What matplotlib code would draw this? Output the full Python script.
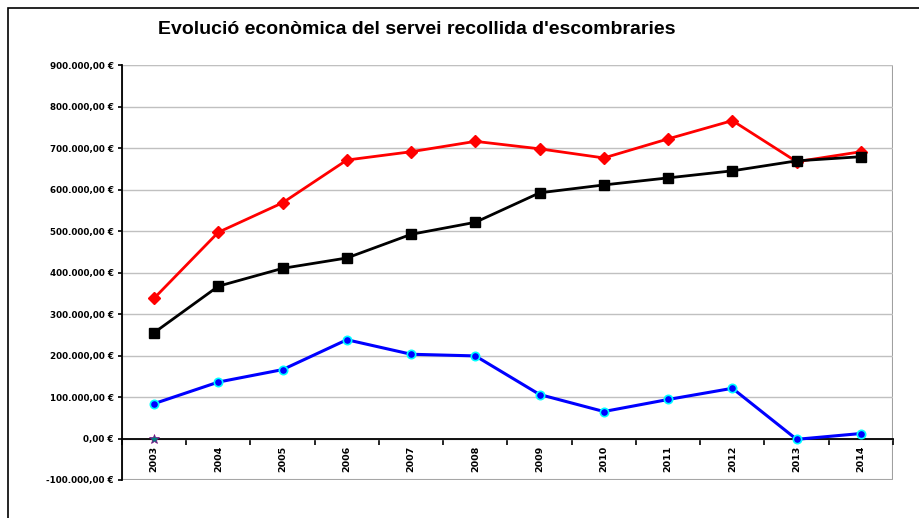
import matplotlib.pyplot as plt
import numpy as np
from matplotlib.patches import Rectangle

years = ['2003', '2004', '2005', '2006', '2007', '2008', '2009', '2010', '2011', '2012', '2013', '2014']
costos = [338000, 497000, 568000, 671000, 691000, 716000, 698000, 676000, 722000, 766000, 667000, 691000]
ingressos = [255000, 367000, 410000, 435000, 492000, 521000, 592000, 611000, 628000, 645000, 669000, 679000]
diferencia = [84000, 136000, 166000, 238000, 203000, 199000, 106000, 65000, 94000, 121000, -2000, 12000]
extra = [0]

yticks = list(range(-100000, 900001, 100000))


def euro(v):
    s = f"{abs(v):,.2f}".replace(',', 'X').replace('.', ',').replace('X', '.')
    return ('-' if v < 0 else '') + s + ' €'


fig = plt.figure(figsize=(9.2, 5.18), dpi=100)
fig.patches.append(Rectangle((8 / 920, -0.1), 1.2, 1 - 8 / 518 + 0.1, transform=fig.transFigure,
                             fill=False, edgecolor='black', linewidth=1.2))
ax = fig.add_axes([122 / 920, 1 - 480 / 518, 771 / 920, 415 / 518])

x = np.arange(len(years))
ax.plot(x, costos, color='red', linewidth=2, marker='D', markersize=6.5, zorder=3)
ax.plot(x, ingressos, color='black', linewidth=2, marker='s', markersize=6.5, zorder=3)
ax.plot(x, diferencia, color='blue', linewidth=2.2, marker='o', markersize=6,
        markerfacecolor='blue', markeredgecolor='cyan', markeredgewidth=1.2, zorder=3)
ax.plot(x[:len(extra)], extra, linestyle='none', marker='*', markersize=7,
        color='teal', markeredgecolor='purple', markeredgewidth=0.5, zorder=4)

ax.set_xlim(-0.5, len(years) - 0.5)
ax.set_ylim(-100000, 900000)
ax.set_yticks(yticks)
ax.set_yticklabels([euro(v) for v in yticks], fontsize=6.3, fontweight='bold', family='DejaVu Sans')
ax.yaxis.grid(True, color='#c0c0c0', linewidth=1)
ax.set_axisbelow(True)

ax.spines['bottom'].set_position(('data', 0))
ax.spines['bottom'].set_color('black')
ax.spines['bottom'].set_linewidth(1.3)
ax.spines['left'].set_color('black')
ax.spines['left'].set_linewidth(1.3)
ax.spines['top'].set_visible(False)
ax.spines['right'].set_visible(False)
ax.add_patch(Rectangle((0, 0), 1, 1, transform=ax.transAxes, fill=False,
                       edgecolor='#a0a0a0', linewidth=1.5, zorder=0))

ax.set_xticks(np.arange(len(years) + 1) - 0.5)
ax.set_xticklabels([])
ax.tick_params(axis='x', which='major', length=4, width=1.2, direction='out')
ax.set_xticks(x, minor=True)
ax.set_xticklabels(years, minor=True, rotation=90, fontsize=6.8, fontweight='bold',
                   family='DejaVu Sans')
ax.tick_params(axis='x', which='minor', length=0, pad=5)
ax.tick_params(axis='y', length=3, width=1.2, pad=3)

fig.text(158 / 920, 1 - 30 / 518, "Evolució econòmica del servei recollida d'escombraries",
         fontsize=14, fontweight='bold', family='Liberation Sans', va='center', ha='left')

fig.savefig('out.png', dpi=100)
